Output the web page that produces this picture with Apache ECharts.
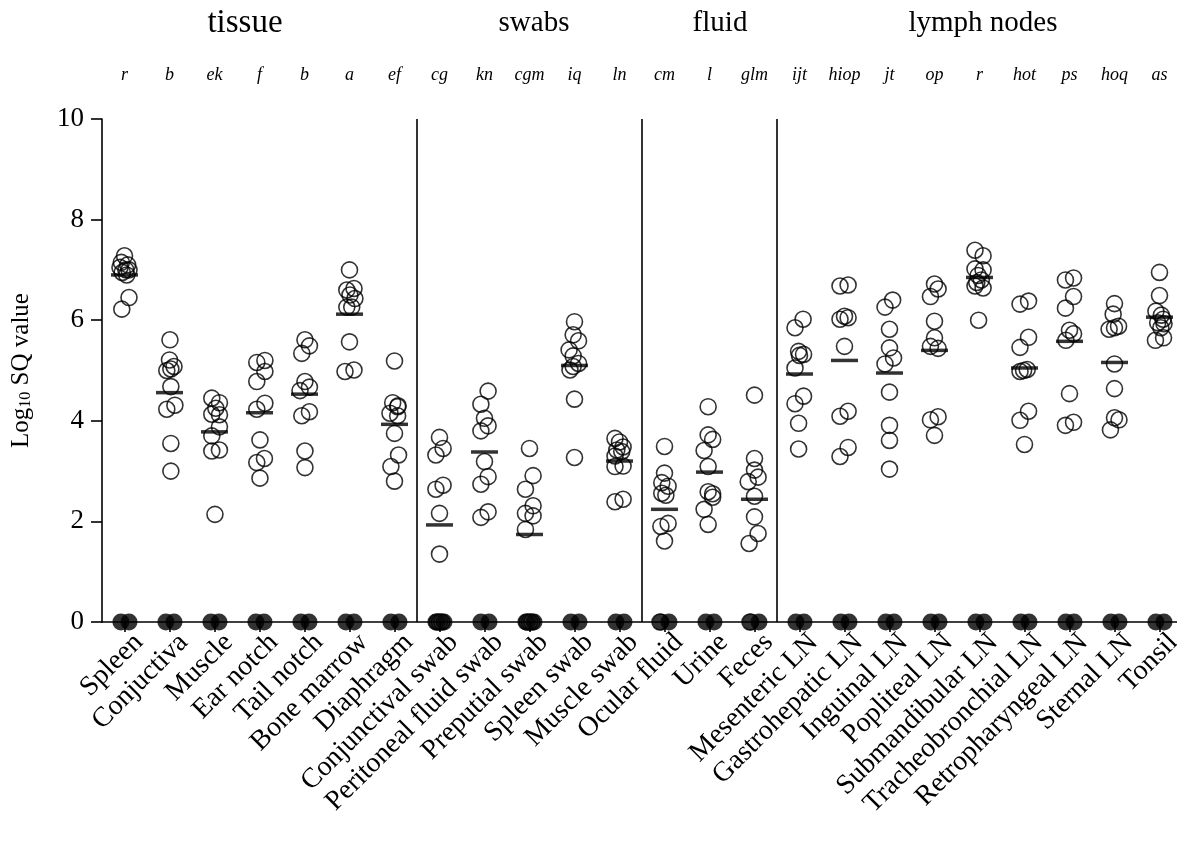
<!DOCTYPE html>
<html>
<head>
<meta charset="utf-8">
<script src="https://cdn.jsdelivr.net/npm/echarts@6/dist/echarts.min.js"></script>
<style>
html,body{margin:0;padding:0;background:#fff;}
#chart{width:1177px;height:850px;}
</style>
</head>
<body>
<div id="chart"></div>
<script>
// ---------------- data ----------------
const categories = ['Spleen','Conjuctiva','Muscle','Ear notch','Tail notch','Bone marrow','Diaphragm',
  'Conjunctival swab','Peritoneal fluid swab','Preputial swab','Spleen swab','Muscle swab',
  'Ocular fluid','Urine','Feces',
  'Mesenteric LN','Gastrohepatic LN','Inguinal LN','Popliteal LN','Submandibular LN',
  'Tracheobronchial LN','Retropharyngeal LN','Sternal LN','Tonsil'];

const groupNames = ['tissue','swabs','fluid','lymph nodes'];
const groupSizes = [7, 5, 3, 9];

const letters = ['r','b','ek','f','b','a','ef','cg','kn','cgm','iq','ln','cm','l','glm',
  'ijt','hiop','jt','op','r','hot','ps','hoq','as'];

const yTicks = [0, 2, 4, 6, 8, 10];

// individual animals (log10 SQ value), per category
const tissueValues = [
  [7.28, 7.15, 7.10, 7.05, 7.00, 7.00, 6.95, 6.90, 6.45, 6.22],
  [5.61, 5.21, 5.08, 5.03, 5.00, 4.68, 4.31, 4.23, 3.55, 3.00],
  [4.45, 4.36, 4.25, 4.13, 4.12, 3.88, 3.70, 3.42, 3.40, 2.14],
  [5.20, 5.16, 4.98, 4.78, 4.35, 4.23, 3.62, 3.25, 3.17, 2.86],
  [5.61, 5.49, 5.34, 4.78, 4.67, 4.60, 4.18, 4.10, 3.40, 3.07],
  [7.00, 6.63, 6.60, 6.50, 6.43, 6.26, 6.26, 5.57, 5.01, 4.98],
  [5.19, 4.36, 4.30, 4.28, 4.15, 4.10, 3.75, 3.32, 3.09, 2.80]
];
const swabValues = [
  [3.67, 3.45, 3.32, 2.72, 2.64, 2.16, 1.35, 0, 0, 0],
  [4.59, 4.33, 4.05, 3.90, 3.80, 3.19, 2.89, 2.74, 2.19, 2.08],
  [3.45, 2.91, 2.64, 2.31, 2.16, 2.11, 1.84, 0, 0, 0],
  [5.97, 5.71, 5.59, 5.41, 5.29, 5.14, 5.08, 5.01, 4.43, 3.27],
  [3.65, 3.58, 3.48, 3.42, 3.39, 3.30, 3.10, 3.09, 2.44, 2.39]
];
const fluidValues = [
  [3.49, 2.96, 2.77, 2.70, 2.56, 2.52, 1.96, 1.90, 1.61, 0],
  [4.28, 3.72, 3.63, 3.41, 3.09, 2.59, 2.55, 2.48, 2.24, 1.94],
  [4.51, 3.25, 3.02, 2.88, 2.79, 2.50, 2.09, 1.76, 1.56, 0]
];
const lymphValues = [
  [6.02, 5.85, 5.38, 5.32, 5.30, 5.05, 4.49, 4.34, 3.95, 3.44],
  [6.70, 6.68, 6.08, 6.05, 6.02, 5.48, 4.19, 4.09, 3.47, 3.29],
  [6.40, 6.26, 5.82, 5.45, 5.25, 5.13, 4.57, 3.91, 3.61, 3.04],
  [6.72, 6.62, 6.47, 5.98, 5.65, 5.48, 5.44, 4.08, 4.02, 3.71],
  [7.39, 7.28, 7.02, 7.00, 6.89, 6.80, 6.75, 6.68, 6.64, 6.00],
  [6.38, 6.32, 5.66, 5.46, 5.02, 5.00, 4.98, 4.19, 4.01, 3.53],
  [6.84, 6.80, 6.47, 6.24, 5.80, 5.73, 5.60, 4.54, 3.97, 3.91],
  [6.33, 6.12, 5.88, 5.85, 5.82, 5.13, 4.64, 4.06, 4.02, 3.82],
  [6.95, 6.49, 6.18, 6.10, 6.02, 5.95, 5.93, 5.85, 5.65, 5.60]
];

// group means (horizontal bars)
const meanValues = [6.90, 4.56, 3.78, 4.16, 4.53, 6.12, 3.93,
  1.93, 3.38, 1.74, 5.10, 3.20,
  2.24, 2.98, 2.44,
  4.93, 5.20, 4.95, 5.40, 6.85, 5.05, 5.58, 5.16, 6.06];

// negative controls (filled circles), two per category
const controlValues = [
  [0,0],[0,0],[0,0],[0,0],[0,0],[0,0],[0,0],
  [0,0],[0,0],[0,0],[0,0],[0,0],
  [0,0],[0,0],[0,0],
  [0,0],[0,0],[0,0],[0,0],[0,0],[0,0],[0,0],[0,0],[0,0]
];

// horizontal scatter of points within each column (category units)
const pointJitter = [
  [0, -0.07, 0.07, -0.1, 0.03, 0.1, -0.05, 0.05, 0.1, -0.06],
  [0.01, 0, 0.1, 0.03, -0.06, 0.03, 0.12, -0.06, 0.03, 0.03],
  [-0.06, 0.11, 0.03, -0.06, 0.11, 0.11, -0.06, 0.11, -0.06, 0.01],
  [0.12, -0.06, 0.12, -0.06, 0.12, -0.06, 0.01, 0.11, -0.06, 0.01],
  [0.01, 0.11, -0.06, 0.01, 0.11, -0.1, 0.11, -0.06, 0.01, 0.01],
  [0, 0.1, -0.06, 0.01, 0.12, -0.06, 0.05, 0, 0.1, -0.1],
  [0, -0.04, 0.08, 0.07, -0.1, 0.07, 0, 0.09, -0.08, 0],
  [0, 0.08, -0.08, 0.08, -0.08, 0, 0, 0.05, 0, -0.05],
  [0.08, -0.08, 0, 0.08, -0.08, 0, 0.08, -0.08, 0.08, -0.08],
  [0, 0.08, -0.09, 0.08, -0.09, 0.08, -0.09, 0.05, 0, -0.05],
  [0, -0.03, 0.09, -0.12, -0.03, 0.09, -0.03, -0.1, 0, 0],
  [-0.1, 0, 0.08, -0.06, 0.05, -0.1, 0.08, -0.1, 0.08, -0.1],
  [0, 0, -0.06, 0.08, -0.06, 0.03, 0.08, -0.08, 0, -0.1],
  [-0.03, -0.03, 0.07, -0.12, -0.03, -0.03, 0.07, 0.07, -0.12, -0.03],
  [0, 0, 0, 0.08, -0.14, 0, 0, 0.08, -0.12, -0.1],
  [0.08, -0.1, -0.02, 0.09, 0, -0.1, 0.09, -0.1, -0.02, -0.02],
  [0.08, -0.1, 0, 0.08, -0.1, 0, 0.08, -0.1, 0.08, -0.1],
  [0.07, -0.1, 0, 0, 0.09, -0.1, 0, 0, 0, 0],
  [0, 0.08, -0.09, 0, 0, -0.09, 0.08, 0.08, -0.09, 0],
  [-0.1, 0.08, -0.1, 0.08, -0.03, 0.04, -0.06, -0.1, 0.08, -0.02],
  [0.09, -0.1, 0.09, -0.1, 0.06, -0.02, -0.1, 0.09, -0.1, 0],
  [0.09, -0.09, 0.09, -0.09, 0, 0.09, -0.08, 0, 0.09, -0.09],
  [0, -0.03, 0.09, 0, -0.12, 0, 0, 0, 0.1, -0.09],
  [0, 0, -0.08, 0.04, 0.08, -0.04, 0.1, 0.03, 0.09, -0.09]
];
const controlJitter = [-0.08, 0.1];

// ---------------- build ----------------
const allValues = [].concat(tissueValues, swabValues, fluidValues, lymphValues);
const openPts = [];
allValues.forEach((arr, i) => arr.forEach((v, j) => openPts.push([i + pointJitter[i][j], v])));
const filledPts = [];
controlValues.forEach((arr, i) => arr.forEach((v, j) => filledPts.push([i + controlJitter[j], v])));
const meanPts = meanValues.map((m, i) => [i, m]);

// group separators from group sizes
const seps = [];
let acc = 0;
for (let g = 0; g < groupSizes.length - 1; g++) {
  acc += groupSizes[g];
  seps.push([{coord: [acc - 0.5, 0]}, {coord: [acc - 0.5, 10]}]);
}

const SERIF = "'Liberation Serif', 'DejaVu Serif', serif";
const chart = echarts.init(document.getElementById('chart'), null, {renderer: 'canvas'});

const titlePos = [245, 534, 720, 983];
const titleSize = [33, 29, 29, 29];

chart.setOption({
  animation: false,
  backgroundColor: '#fff',
  grid: {left: 102, top: 119, width: 1080, height: 503, containLabel: false, outerBoundsMode: 'none'},
  xAxis: [
    {
      type: 'category', data: categories, position: 'bottom',
      boundaryGap: true,
      axisLine: {show: true, onZero: false, lineStyle: {color: '#000', width: 1.6}},
      axisTick: {show: true, alignWithLabel: true, length: 10, lineStyle: {color: '#000', width: 1.6}},
      axisLabel: {interval: 0, rotate: 45, fontSize: 28, fontFamily: SERIF, color: '#000',
        margin: 2, verticalAlign: 'top', lineHeight: 40},
      splitLine: {show: false}
    },
    {
      type: 'category', data: letters, position: 'top',
      boundaryGap: true,
      axisLine: {show: false}, axisTick: {show: false},
      axisLabel: {interval: 0, fontSize: 18, fontStyle: 'italic', fontFamily: SERIF, color: '#000', margin: 35},
      splitLine: {show: false}
    },
    {
      type: 'value', min: -0.5, max: 23.5, show: false, splitLine: {show: false}
    }
  ],
  yAxis: {
    type: 'value', min: 0, max: 10, interval: 2,
    axisLine: {show: true, onZero: false, lineStyle: {color: '#000', width: 1.6}},
    axisTick: {show: true, length: 11, lineStyle: {color: '#000', width: 1.6}},
    axisLabel: {fontSize: 27, fontFamily: SERIF, color: '#000', margin: 18,
      formatter: v => yTicks.indexOf(v) >= 0 ? String(v) : ''},
    splitLine: {show: false},
    name: '{a|Log}{s|10}{a| SQ value}',
    nameLocation: 'middle', nameGap: 68, nameRotate: 90,
    nameTextStyle: {
      rich: {
        a: {fontSize: 25, fontFamily: SERIF, color: '#000'},
        s: {fontSize: 16, fontFamily: SERIF, color: '#000', verticalAlign: 'bottom', padding: [10, 0, 0, 0]}
      }
    }
  },
  graphic: groupNames.map((g, i) => ({
    type: 'text', x: titlePos[i], y: 23, silent: true,
    style: {text: g, fontSize: titleSize[i], fontFamily: SERIF, fill: '#000', align: 'center', verticalAlign: 'middle'}
  })),
  series: [
    {
      type: 'scatter', xAxisIndex: 2, data: [], silent: true,
      markLine: {silent: true, symbol: 'none', label: {show: false},
        lineStyle: {color: '#000', width: 1.6, type: 'solid'}, data: seps}
    },
    {
      type: 'scatter', xAxisIndex: 2, data: openPts, symbol: 'circle', symbolSize: 16, silent: true,
      itemStyle: {color: 'rgba(0,0,0,0)', borderColor: '#000', borderWidth: 1.6}, z: 3
    },
    {
      type: 'scatter', xAxisIndex: 2, data: filledPts, symbol: 'circle', symbolSize: 17, silent: true,
      itemStyle: {color: '#000'}, z: 4
    },
    {
      type: 'scatter', xAxisIndex: 2, data: meanPts, symbol: 'rect', symbolSize: [27, 3.5], silent: true,
      itemStyle: {color: '#000'}, z: 5
    }
  ]
});
</script>
</body>
</html>
